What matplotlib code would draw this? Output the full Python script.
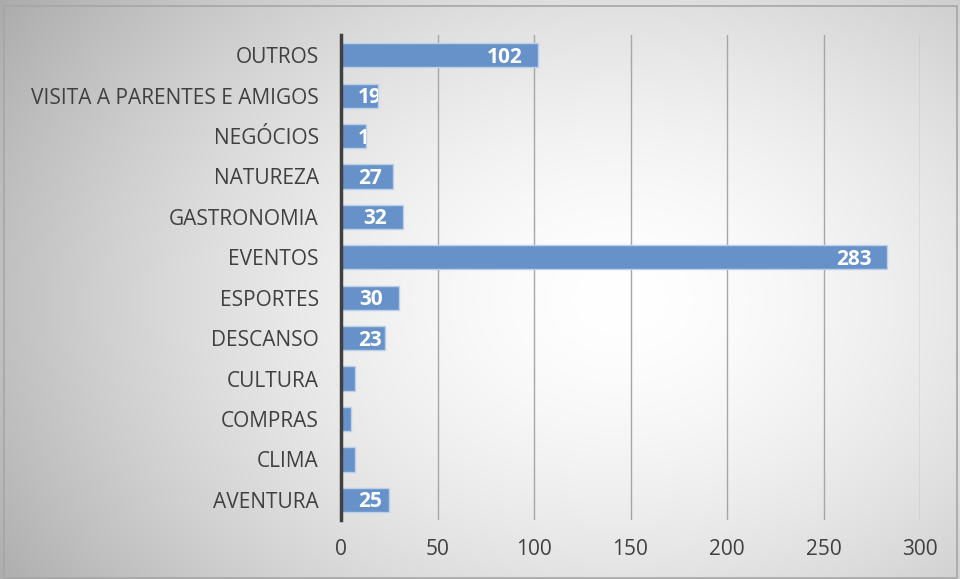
import numpy as np
import matplotlib
matplotlib.use("Agg")
import matplotlib.pyplot as plt
from matplotlib.patches import Rectangle
from matplotlib.transforms import Bbox, TransformedBbox

categories = ["AVENTURA", "CLIMA", "COMPRAS", "CULTURA", "DESCANSO", "ESPORTES",
              "EVENTOS", "GASTRONOMIA", "NATUREZA", "NEGÓCIOS",
              "VISITA A PARENTES E AMIGOS", "OUTROS"]
values = [25, 7, 5, 7, 23, 30, 283, 32, 27, 13, 19, 102]
xticks = [0, 50, 100, 150, 200, 250, 300]

plt.rcParams['font.family'] = ['Open Sans', 'DejaVu Sans']

fig = plt.figure(figsize=(9.6, 5.79), dpi=100)

# radial gradient background
bg = fig.add_axes([0, 0, 1, 1], zorder=-10)
W, H = 960, 579
yy, xx = np.mgrid[0:H, 0:W]
cx, cy = 620, 300
d = np.sqrt(((xx - cx) / 700.0) ** 2 + ((yy - cy) / 520.0) ** 2)
g = 1.0 - 0.30 * np.clip(d, 0, 1.2) ** 1.6
img = np.dstack([g, g, g])
bg.imshow(img, extent=[0, 1, 0, 1], aspect='auto', origin='upper')
bg.set_axis_off()
fig.patches.append(Rectangle((4 / W, 1 / H), 953 / W, 572 / H, transform=fig.transFigure,
                             fill=False, edgecolor='#a6a6a6', linewidth=1.2, zorder=-5))

ax = fig.add_axes([341 / W, (579 - 520) / H, 579 / W, 485 / H])
ax.patch.set_alpha(0)
y = np.arange(len(categories))
bars = ax.barh(y, values, height=0.6, color='#6792c9', edgecolor='#bcd0ea', linewidth=1.0, zorder=3)
ax.set_xlim(0, 300)
ax.set_ylim(-0.5, len(categories) - 0.5)
ax.set_xticks(xticks)
ax.set_xticklabels([str(t) for t in xticks])
ax.set_yticks(y)
ax.set_yticklabels(categories)
ax.tick_params(axis='both', length=0, labelsize=15, colors='#404040')
ax.tick_params(axis='x', pad=14)
ax.tick_params(axis='y', pad=16)
ax.grid(axis='x', color='#a6a6a6', linewidth=1.0, zorder=1)
for s in ['top', 'right', 'bottom']:
    ax.spines[s].set_visible(False)
ax.spines['left'].set_color('#404040')
ax.spines['left'].set_linewidth(2.5)
ax.spines['left'].set_zorder(5)

for b, v in zip(bars, values):
    nd = len(str(v))
    xl = max(8.8, v - 8.3 - nd * 6.0)
    yc = b.get_y() + b.get_height() / 2 - 0.05
    t = ax.text(xl, yc, str(v), ha='left', va='center',
                color='white', fontsize=15, fontweight='bold', zorder=4)
    clip = TransformedBbox(Bbox([[b.get_x(), b.get_y()], [b.get_x() + b.get_width(), b.get_y() + b.get_height()]]),
                           ax.transData)
    t.set_clip_box(clip)
    t.set_clip_on(True)

fig.savefig('out.png', dpi=100)
